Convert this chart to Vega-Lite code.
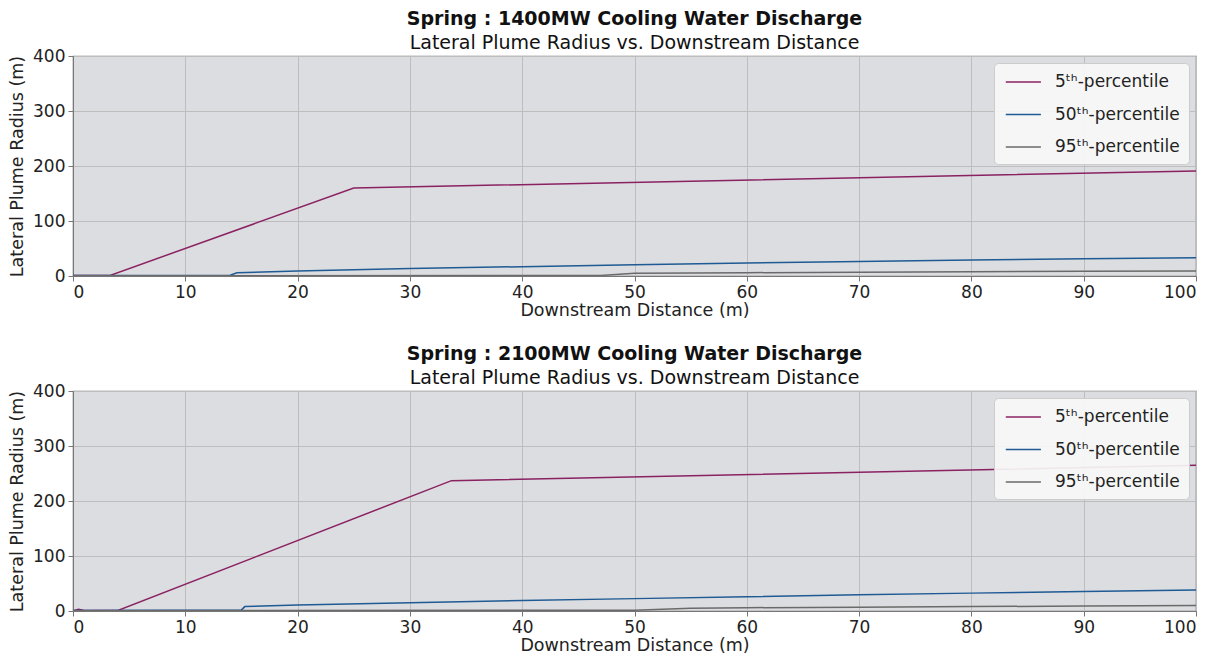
{
  "$schema": "https://vega.github.io/schema/vega-lite/v6.json",
  "background": "white",
  "padding": {"left": 7, "top": 9, "right": 10, "bottom": 0},
  "spacing": 24,
  "config": {
    "font": "DejaVu Sans",
    "view": {"fill": "#dcdde0", "stroke": "#777777", "strokeWidth": 1.2},
    "axis": {
      "labelFont": "DejaVu Sans", "labelFontSize": 17, "labelColor": "#222222",
      "titleFont": "DejaVu Sans", "titleFontSize": 17.5, "titleFontWeight": "normal", "titleColor": "#222222",
      "gridColor": "#bdbdbd", "gridWidth": 1, "domainColor": "#777777", "tickColor": "#777777",
      "tickSize": 5, "labelPadding": 3
    },
    "title": {
      "font": "DejaVu Sans", "fontSize": 19, "fontWeight": "bold", "color": "#111111",
      "subtitleFont": "DejaVu Sans", "subtitleFontSize": 19, "subtitleColor": "#111111",
      "subtitlePadding": 5, "anchor": "middle", "offset": -6
    },
    "legend": {
      "orient": "top-right", "offset": 7,
      "fillColor": "rgba(247,247,247,0.92)", "strokeColor": "#cccccc", "cornerRadius": 4,
      "padding": 9, "labelFont": "DejaVu Sans", "labelFontSize": 17, "labelColor": "#222222",
      "symbolType": "M-0.8,0H3.1", "symbolSize": 324, "symbolStrokeWidth": 1.6, "symbolFillColor": "transparent",
      "rowPadding": 14.5, "labelOffset": 32, "title": null
    }
  },
  "datasets": {
    "p1400": [
      {"x": 0, "y": 1, "s": "5ᵗʰ-percentile"},
      {"x": 3.3, "y": 1, "s": "5ᵗʰ-percentile"},
      {"x": 25, "y": 160, "s": "5ᵗʰ-percentile"},
      {"x": 100, "y": 191, "s": "5ᵗʰ-percentile"},
      {"x": 0, "y": 0.8, "s": "50ᵗʰ-percentile"},
      {"x": 14, "y": 1.5, "s": "50ᵗʰ-percentile"},
      {"x": 14.6, "y": 6, "s": "50ᵗʰ-percentile"},
      {"x": 20, "y": 9, "s": "50ᵗʰ-percentile"},
      {"x": 30, "y": 13.5, "s": "50ᵗʰ-percentile"},
      {"x": 40, "y": 17, "s": "50ᵗʰ-percentile"},
      {"x": 50, "y": 20.5, "s": "50ᵗʰ-percentile"},
      {"x": 60, "y": 23.5, "s": "50ᵗʰ-percentile"},
      {"x": 70, "y": 26.5, "s": "50ᵗʰ-percentile"},
      {"x": 80, "y": 29, "s": "50ᵗʰ-percentile"},
      {"x": 90, "y": 31.5, "s": "50ᵗʰ-percentile"},
      {"x": 100, "y": 33, "s": "50ᵗʰ-percentile"},
      {"x": 0, "y": 0.3, "s": "95ᵗʰ-percentile"},
      {"x": 47, "y": 1, "s": "95ᵗʰ-percentile"},
      {"x": 50, "y": 5, "s": "95ᵗʰ-percentile"},
      {"x": 60, "y": 6, "s": "95ᵗʰ-percentile"},
      {"x": 70, "y": 7, "s": "95ᵗʰ-percentile"},
      {"x": 80, "y": 7.8, "s": "95ᵗʰ-percentile"},
      {"x": 90, "y": 8.5, "s": "95ᵗʰ-percentile"},
      {"x": 100, "y": 9, "s": "95ᵗʰ-percentile"}
    ],
    "p2100": [
      {"x": 0, "y": 0.5, "s": "5ᵗʰ-percentile"},
      {"x": 0.5, "y": 3, "s": "5ᵗʰ-percentile"},
      {"x": 1, "y": 1, "s": "5ᵗʰ-percentile"},
      {"x": 4, "y": 1, "s": "5ᵗʰ-percentile"},
      {"x": 33.7, "y": 237, "s": "5ᵗʰ-percentile"},
      {"x": 100, "y": 265, "s": "5ᵗʰ-percentile"},
      {"x": 0, "y": 0.8, "s": "50ᵗʰ-percentile"},
      {"x": 15, "y": 2, "s": "50ᵗʰ-percentile"},
      {"x": 15.3, "y": 8, "s": "50ᵗʰ-percentile"},
      {"x": 20, "y": 11, "s": "50ᵗʰ-percentile"},
      {"x": 30, "y": 15, "s": "50ᵗʰ-percentile"},
      {"x": 40, "y": 19, "s": "50ᵗʰ-percentile"},
      {"x": 50, "y": 22.5, "s": "50ᵗʰ-percentile"},
      {"x": 60, "y": 26, "s": "50ᵗʰ-percentile"},
      {"x": 70, "y": 29.5, "s": "50ᵗʰ-percentile"},
      {"x": 80, "y": 32.5, "s": "50ᵗʰ-percentile"},
      {"x": 90, "y": 35.5, "s": "50ᵗʰ-percentile"},
      {"x": 100, "y": 38, "s": "50ᵗʰ-percentile"},
      {"x": 0, "y": 0.3, "s": "95ᵗʰ-percentile"},
      {"x": 50, "y": 1.5, "s": "95ᵗʰ-percentile"},
      {"x": 55, "y": 5, "s": "95ᵗʰ-percentile"},
      {"x": 60, "y": 6, "s": "95ᵗʰ-percentile"},
      {"x": 70, "y": 7, "s": "95ᵗʰ-percentile"},
      {"x": 80, "y": 8, "s": "95ᵗʰ-percentile"},
      {"x": 90, "y": 9, "s": "95ᵗʰ-percentile"},
      {"x": 100, "y": 10, "s": "95ᵗʰ-percentile"}
    ]
  },
  "resolve": {"scale": {"color": "independent"}, "legend": {"color": "independent"}},
  "vconcat": [
    {
      "title": {"text": "Spring :  1400MW Cooling Water Discharge", "subtitle": "Lateral Plume Radius vs. Downstream Distance"},
      "width": 1123, "height": 220,
      "data": {"name": "p1400"},
      "mark": {"type": "line", "strokeWidth": 1.5, "clip": true},
      "encoding": {
        "x": {"field": "x", "type": "quantitative", "scale": {"domain": [0, 100], "nice": false}, "axis": {"values": [0,10,20,30,40,50,60,70,80,90,100], "title": "Downstream Distance (m)", "titlePadding": 1}},
        "y": {"field": "y", "type": "quantitative", "scale": {"domain": [0, 400], "nice": false}, "axis": {"values": [0,100,200,300,400], "title": "Lateral Plume Radius (m)", "titlePadding": 6}},
        "color": {"field": "s", "type": "nominal", "scale": {"domain": ["5ᵗʰ-percentile", "50ᵗʰ-percentile", "95ᵗʰ-percentile"], "range": ["#8a2262", "#1f5a94", "#6a6a6a"]}},
        "order": {"field": "x", "type": "quantitative"}
      }
    },
    {
      "title": {"text": "Spring :  2100MW Cooling Water Discharge", "subtitle": "Lateral Plume Radius vs. Downstream Distance"},
      "width": 1123, "height": 220,
      "data": {"name": "p2100"},
      "mark": {"type": "line", "strokeWidth": 1.5, "clip": true},
      "encoding": {
        "x": {"field": "x", "type": "quantitative", "scale": {"domain": [0, 100], "nice": false}, "axis": {"values": [0,10,20,30,40,50,60,70,80,90,100], "title": "Downstream Distance (m)", "titlePadding": 1}},
        "y": {"field": "y", "type": "quantitative", "scale": {"domain": [0, 400], "nice": false}, "axis": {"values": [0,100,200,300,400], "title": "Lateral Plume Radius (m)", "titlePadding": 6}},
        "color": {"field": "s", "type": "nominal", "scale": {"domain": ["5ᵗʰ-percentile", "50ᵗʰ-percentile", "95ᵗʰ-percentile"], "range": ["#8a2262", "#1f5a94", "#6a6a6a"]}},
        "order": {"field": "x", "type": "quantitative"}
      }
    }
  ]
}
